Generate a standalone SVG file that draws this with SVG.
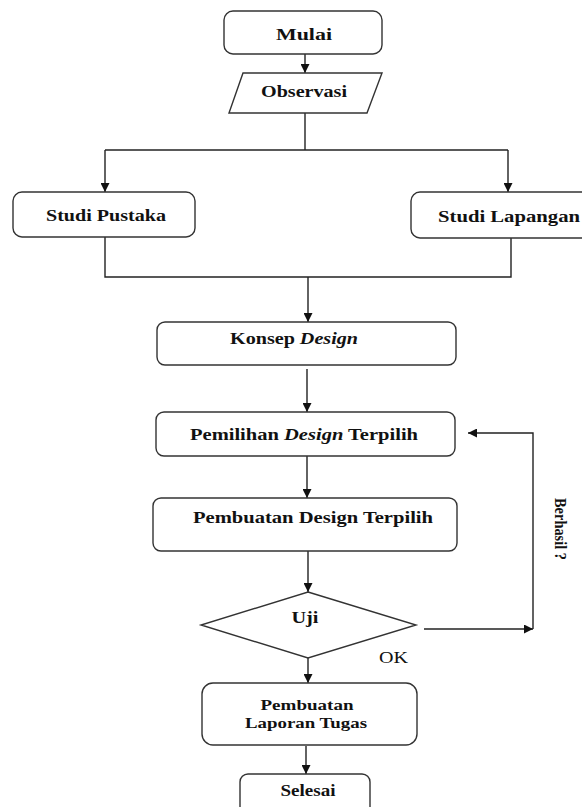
<svg xmlns="http://www.w3.org/2000/svg" width="582" height="807" viewBox="0 0 582 807">
<style>
.box{fill:#fff;stroke:#333;stroke-width:1.4}
.ln{fill:none;stroke:#222;stroke-width:1.4}
.t{font-family:"Liberation Serif","Times New Roman",serif;font-weight:bold;font-size:17px;fill:#111}
.s{font-size:15px}
.n{font-weight:normal}
.i{font-style:italic}
</style>
<defs>
<marker id="ah" viewBox="0 0 10 10" refX="10" refY="5" markerWidth="9" markerHeight="9" markerUnits="userSpaceOnUse" orient="auto">
<path d="M0,0 L10,5 L0,10 z" fill="#111"/>
</marker>
</defs>
<rect width="582" height="807" fill="#fff"/>
<g id="connectors">
<line class="ln" x1="305" y1="54" x2="305" y2="73" marker-end="url(#ah)"/>
<polyline class="ln" points="305,113 305,150"/>
<polyline class="ln" points="105,150 508,150"/>
<line class="ln" x1="105" y1="150" x2="105" y2="192" marker-end="url(#ah)"/>
<line class="ln" x1="508" y1="150" x2="508" y2="192" marker-end="url(#ah)"/>
<polyline class="ln" points="105,237 105,277 511,277 511,238"/>
<line class="ln" x1="308" y1="277" x2="308" y2="322" marker-end="url(#ah)"/>
<line class="ln" x1="307" y1="369" x2="307" y2="412" marker-end="url(#ah)"/>
<line class="ln" x1="307" y1="456" x2="307" y2="498" marker-end="url(#ah)"/>
<line class="ln" x1="308" y1="551" x2="308" y2="592" marker-end="url(#ah)"/>
<line class="ln" x1="424" y1="629" x2="533" y2="629" marker-end="url(#ah)"/>
<polyline class="ln" points="533,629 533,433 468,433" marker-end="url(#ah)"/>
<line class="ln" x1="308" y1="658" x2="308" y2="683" marker-end="url(#ah)"/>
<line class="ln" x1="306" y1="746" x2="306" y2="774" marker-end="url(#ah)"/>
</g>
<g id="mulai">
<rect class="box" x="224" y="11" width="158" height="43" rx="9"/>
<text class="t" x="304" y="40" text-anchor="middle" textLength="56" lengthAdjust="spacingAndGlyphs">Mulai</text>
</g>
<g id="observasi">
<polygon class="box" points="243,73 382,73 367,113 229,113"/>
<text class="t" x="304" y="97" text-anchor="middle" textLength="86" lengthAdjust="spacingAndGlyphs">Observasi</text>
</g>
<g id="studi-pustaka">
<rect class="box" x="13" y="192" width="182" height="45" rx="9"/>
<text class="t" x="106" y="221" text-anchor="middle" textLength="120" lengthAdjust="spacingAndGlyphs">Studi Pustaka</text>
</g>
<g id="studi-lapangan">
<rect class="box" x="411" y="192" width="200" height="46" rx="9"/>
<text class="t" x="438" y="222" textLength="142" lengthAdjust="spacingAndGlyphs">Studi Lapangan</text>
</g>
<g id="konsep">
<rect class="box" x="157" y="322" width="299" height="43" rx="8"/>
<text class="t" x="294" y="344" text-anchor="middle" textLength="128" lengthAdjust="spacingAndGlyphs">Konsep <tspan class="i">Design</tspan></text>
</g>
<g id="pemilihan">
<rect class="box" x="156" y="412" width="299" height="44" rx="8"/>
<text class="t" x="304" y="440" text-anchor="middle" textLength="228" lengthAdjust="spacingAndGlyphs">Pemilihan <tspan class="i">Design</tspan> Terpilih</text>
</g>
<g id="pembuatan-design">
<rect class="box" x="153" y="498" width="304" height="53" rx="8"/>
<text class="t" x="313" y="523" text-anchor="middle" textLength="240" lengthAdjust="spacingAndGlyphs">Pembuatan Design Terpilih</text>
</g>
<g id="uji">
<polygon class="box" points="308,592 416,625 308,658 201,625"/>
<text class="t" x="305" y="623" text-anchor="middle" textLength="27" lengthAdjust="spacingAndGlyphs">Uji</text>
</g>
<g id="labels">
<text class="t n" x="379" y="663" textLength="29" lengthAdjust="spacingAndGlyphs">OK</text>
<text class="t" transform="translate(555,498) rotate(90)" x="0" y="0" textLength="62" lengthAdjust="spacingAndGlyphs">Berhasil ?</text>
</g>
<g id="laporan">
<rect class="box" x="202" y="683" width="215" height="62" rx="11"/>
<text class="t s" x="307" y="710" text-anchor="middle" textLength="93" lengthAdjust="spacingAndGlyphs">Pembuatan</text>
<text class="t s" x="306" y="728" text-anchor="middle" textLength="122" lengthAdjust="spacingAndGlyphs">Laporan Tugas</text>
</g>
<g id="selesai">
<rect class="box" x="240" y="774" width="130" height="50" rx="8"/>
<text class="t" x="308" y="796" text-anchor="middle" textLength="55" lengthAdjust="spacingAndGlyphs">Selesai</text>
</g>
</svg>
